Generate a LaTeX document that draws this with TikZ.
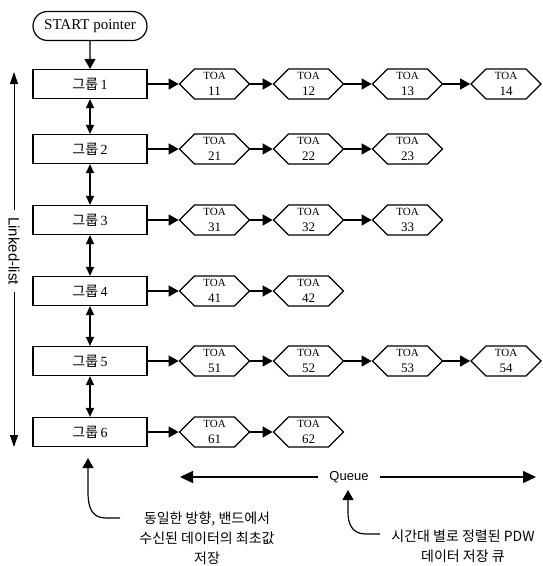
\documentclass[tikz,border=0pt]{standalone}
\usepackage{fontspec}
\setmainfont{Liberation Serif}
\setsansfont{Liberation Sans}
\newfontfamily\kr{Noto Sans CJK KR}
\usetikzlibrary{shapes,arrows.meta}
\tikzstyle{group} = [rectangle, draw, line width=1.2pt, minimum width=114pt,
    minimum height=29pt, inner sep=0pt, font=\fontsize{14}{14}\selectfont]
\tikzstyle{startbox} = [rounded rectangle, draw, line width=1.2pt, minimum width=114pt,
    minimum height=29pt, inner sep=0pt, font=\fontsize{15}{15}\selectfont]
\tikzstyle{toa} = [signal, signal to=west and east, signal pointer angle=90, draw,
    line width=1.2pt, minimum width=70pt, minimum height=30pt, inner sep=0pt,
    align=center, font=\fontsize{13}{16}\selectfont]
\tikzstyle{line} = [draw, line width=1.2pt, -{Triangle[length=10pt,width=11pt]}]
\tikzstyle{both} = [draw, line width=1.2pt, {Triangle[length=9pt,width=8pt]}-{Triangle[length=9pt,width=8pt]}]
\tikzstyle{big} = [draw, line width=1.2pt, -{Triangle[length=13pt,width=12pt]}]
\tikzstyle{side} = [draw, line width=1pt, -{Triangle[length=12pt,width=8pt]}]
\tikzstyle{note} = [align=center, font=\kr\fontsize{14}{20}\selectfont]
\newcommand{\grp}[1]{{\kr 그룹}\,#1}
\newcommand{\toatext}[1]{{\fontsize{11}{11}\selectfont TOA}\\#1}

\begin{document}
\begin{tikzpicture}[x=1pt,y=-1pt]
      \useasboundingbox (0,0) rectangle (542,566);
      \node[startbox] (start) at (90,26) {START pointer};
      \node[group] (g1) at (90,84) {\grp{1}};
      \node[group] (g2) at (90,149) {\grp{2}};
      \node[group] (g3) at (90,220) {\grp{3}};
      \node[group] (g4) at (90,291) {\grp{4}};
      \node[group] (g5) at (90,361) {\grp{5}};
      \node[group] (g6) at (90,432) {\grp{6}};
      % group chain
      \draw[line] (start) -- (g1);
      \draw[both] (g1) -- (g2);
      \draw[both] (g2) -- (g3);
      \draw[both] (g3) -- (g4);
      \draw[both] (g4) -- (g5);
      \draw[both] (g5) -- (g6);
      % queues
      \node[toa] (t11) at (214.5,84) {\toatext{11}};
      \node[toa] (t12) at (308.5,84) {\toatext{12}};
      \node[toa] (t13) at (407.5,84) {\toatext{13}};
      \node[toa] (t14) at (506,84) {\toatext{14}};
      \node[toa] (t21) at (214.5,149) {\toatext{21}};
      \node[toa] (t22) at (308.5,149) {\toatext{22}};
      \node[toa] (t23) at (407.5,149) {\toatext{23}};
      \node[toa] (t31) at (214.5,220) {\toatext{31}};
      \node[toa] (t32) at (308.5,220) {\toatext{32}};
      \node[toa] (t33) at (407.5,220) {\toatext{33}};
      \node[toa] (t41) at (214.5,291) {\toatext{41}};
      \node[toa] (t42) at (308.5,291) {\toatext{42}};
      \node[toa] (t51) at (214.5,361) {\toatext{51}};
      \node[toa] (t52) at (308.5,361) {\toatext{52}};
      \node[toa] (t53) at (407.5,361) {\toatext{53}};
      \node[toa] (t54) at (506,361) {\toatext{54}};
      \node[toa] (t61) at (214.5,432) {\toatext{61}};
      \node[toa] (t62) at (308.5,432) {\toatext{62}};
      \draw[line] (g1.east) -- (t11.west);
      \draw[line] (t11.east) -- (t12.west);
      \draw[line] (t12.east) -- (t13.west);
      \draw[line] (t13.east) -- (t14.west);
      \draw[line] (g2.east) -- (t21.west);
      \draw[line] (t21.east) -- (t22.west);
      \draw[line] (t22.east) -- (t23.west);
      \draw[line] (g3.east) -- (t31.west);
      \draw[line] (t31.east) -- (t32.west);
      \draw[line] (t32.east) -- (t33.west);
      \draw[line] (g4.east) -- (t41.west);
      \draw[line] (t41.east) -- (t42.west);
      \draw[line] (g5.east) -- (t51.west);
      \draw[line] (t51.east) -- (t52.west);
      \draw[line] (t52.east) -- (t53.west);
      \draw[line] (t53.east) -- (t54.west);
      \draw[line] (g6.east) -- (t61.west);
      \draw[line] (t61.east) -- (t62.west);
      % side labels
      \node[rotate=-90, inner sep=7pt, font=\sffamily\fontsize{15}{15}\selectfont] (linked) at (14,251) {Linked-list};
      \coordinate (lltop) at (14,72);
      \coordinate (llbot) at (14,447);
      \draw[side] (linked.west) -- (lltop);
      \draw[side] (linked.east) -- (llbot);
      \node[inner sep=11pt, font=\sffamily\fontsize{13}{13}\selectfont] (queue) at (349,477) {Queue};
      \coordinate (qleft) at (180,477);
      \coordinate (qright) at (536,477);
      \draw[big] (queue.west) -- (qleft);
      \draw[big] (queue.east) -- (qright);
      % notes
      \node[note] (note1) at (207,538) {동일한 방향, 밴드에서\\수신된 데이터의 최초값\\저장};
      \node[note] (note2) at (463,546) {시간대 별로 정렬된 PDW\\데이터 저장 큐};
      \coordinate (n1) at (120,518);
      \coordinate (n1tip) at (88,458);
      \coordinate (n2) at (380,534);
      \coordinate (n2tip) at (348,490);
      \draw[line] (n1) -- (106,518) .. controls (92,518) and (88,508) .. (88,492) -- (n1tip);
      \draw[line] (n2) -- (366,534) .. controls (352,534) and (348,524) .. (348,512) -- (n2tip);
    \end{tikzpicture}
\end{document}
